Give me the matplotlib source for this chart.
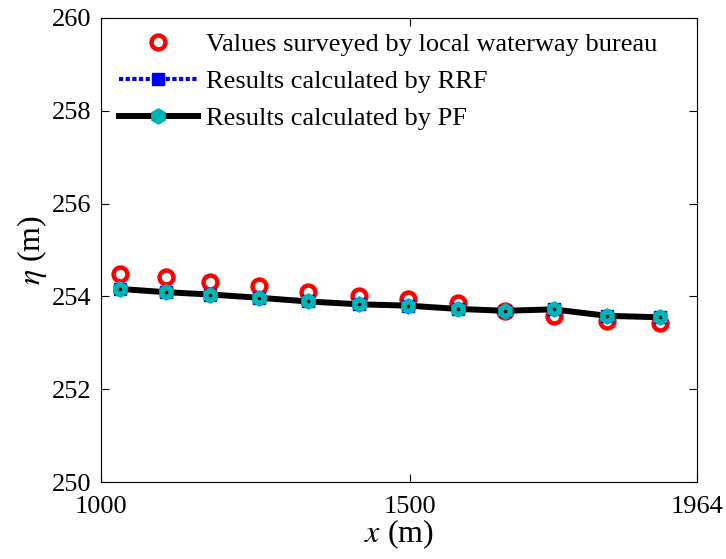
import matplotlib.pyplot as plt

plt.rcParams['font.family'] = ['Liberation Serif', 'DejaVu Serif']
plt.rcParams['mathtext.fontset'] = 'stix'

# distance along the reach (m)
x = [1031, 1105, 1177, 1256, 1335, 1417, 1497, 1577, 1653, 1732, 1819, 1904]
# surveyed water level
eta_survey = [254.48, 254.42, 254.32, 254.22, 254.10, 254.01, 253.94, 253.85, 253.69, 253.58, 253.48, 253.43]
# calculated water level
eta_rrf = [254.16, 254.09, 254.04, 253.97, 253.89, 253.83, 253.80, 253.73, 253.69, 253.72, 253.58, 253.55]
eta_pf = [254.16, 254.09, 254.04, 253.97, 253.89, 253.83, 253.80, 253.73, 253.69, 253.72, 253.58, 253.55]

fig = plt.figure(figsize=(7.26, 5.59), dpi=100)
ax = fig.add_axes([0.139, 0.1377, 0.821, 0.8303])

ax.plot(x, eta_survey, 'o', color='red', markerfacecolor='white', markeredgewidth=3.2,
        markersize=10, label='Values surveyed by local waterway bureau', zorder=2)
ax.plot(x, eta_rrf, color='blue', linewidth=3, dashes=(1.0, 0.6), marker='s', markersize=9,
        markerfacecolor='blue', label='Results calculated by RRF', zorder=3)
ax.plot(x, eta_pf, '-', color='black', linewidth=4.3, marker='h', markersize=11,
        markerfacecolor='#00b4b4', markeredgecolor='#00b4b4', label='Results calculated by PF', zorder=4)
ax.plot(x, eta_pf, '.', color='black', markersize=3, zorder=5)

ax.set_xlim(1000, 1964)
ax.set_ylim(250, 260)
ax.set_xticks([1000, 1500, 1964])
ax.set_yticks([250, 252, 254, 256, 258, 260])
ax.tick_params(direction='in', top=True, right=True, labelsize=19, length=6)
ax.tick_params(axis='x', pad=10)
ax.tick_params(axis='y', pad=7)
ax.set_xlabel(r'$x$ (m)', fontsize=23, labelpad=0)
ax.set_ylabel(r'$\eta$ (m)', fontsize=23, labelpad=2)

ax.legend(loc='upper left', bbox_to_anchor=(0.012, 0.991), frameon=False, fontsize=19,
          handlelength=3.0, handletextpad=0.3, labelspacing=0.52,
          borderpad=0.2, borderaxespad=0.2)

fig.savefig('out.png', dpi=100)
